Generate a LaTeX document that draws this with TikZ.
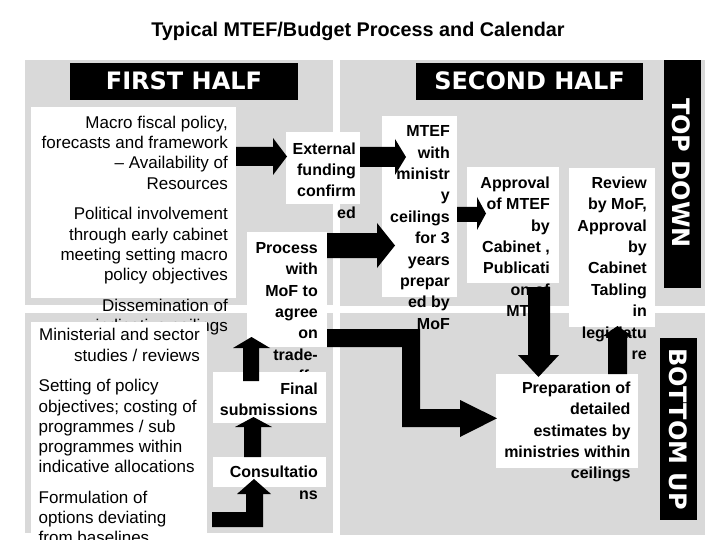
\documentclass[tikz,border=0pt]{standalone}
\usepackage{fontspec}
\setmainfont{Liberation Sans}
\newfontfamily\hdfont{DejaVu Sans}
\definecolor{bggray}{RGB}{217,217,217}
\tikzset{
  quad/.style={fill=bggray},
  wbox/.style={fill=white, draw=none, inner sep=0, anchor=north west},
  hbox/.style={fill=black, draw=none},
  htxt/.style={text=white, inner sep=0, font=\hdfont\bfseries\fontsize{24}{28}\selectfont},
  rtxt/.style={inner sep=0, align=right, anchor=base east, font=\fontsize{17}{20.3}\selectfont},
  ltxt/.style={inner sep=0, align=left, anchor=base west, font=\fontsize{17}{20.3}\selectfont},
  btxt/.style={inner sep=0, align=right, anchor=base east, font=\bfseries\fontsize{16}{21.4}\selectfont},
  blockarrow/.style={fill=black, draw=none}
}
\begin{document}
\begin{tikzpicture}[x=1pt,y=-1pt]
\useasboundingbox (0,0) rectangle (720,540);
% title
\node[inner sep=0, anchor=base, font=\bfseries\fontsize{19.8}{23}\selectfont] (title) at (358,36.7) {Typical MTEF/Budget Process and Calendar};
% quadrants
\fill[quad] (25,60) rectangle (333,305);
\fill[quad] (25,313) rectangle (333,533);
\fill[quad] (340,60) rectangle (705,306);
\fill[quad] (340,313) rectangle (705,535);
% headings
\fill[hbox] (70,63) rectangle (298,100);
\node[htxt, anchor=base] (fh) at (184,90) {FIRST HALF};
\fill[hbox] (416,63) rectangle (643,100);
\node[htxt, anchor=base] (sh) at (529.5,90) {SECOND HALF};
\fill[hbox] (664,60) rectangle (701,288);
\node[htxt, rotate=-90] (td) at (681.5,173) {TOP DOWN};
\fill[hbox] (660,338) rectangle (697,520);
\node[htxt, rotate=-90] (bu) at (678,429) {BOTTOM UP};
% left box 1 (node anchors sit on the baseline of the last line)
\node[wbox, minimum width=205pt, minimum height=191pt] (b1) at (31,107) {};
\node[rtxt] (t1) at (228,331.4) {Macro fiscal policy,\\forecasts and framework\\– Availability of\\Resources\\[10.2pt]Political involvement\\through early cabinet\\meeting setting macro\\policy objectives\\[10.2pt]Dissemination of\\indicative ceilings};
% left box 2
\node[wbox, minimum width=176pt, minimum height=211pt] (b2) at (31,322) {};
\node[rtxt] (t2a) at (200,361) {Ministerial and sector\\studies / reviews};
\node[ltxt] (t2b) at (38.5,543.6) {Setting of policy\\objectives; costing of\\programmes / sub\\programmes within\\indicative allocations\\[9.8pt]Formulation of\\options deviating\\from baselines};
% middle column
\node[wbox, minimum width=74pt, minimum height=72pt] (ext) at (286,132) {};
\node[btxt] (text) at (356,218.2) {External\\funding\\confirm\\ed};
\node[wbox, minimum width=80pt, minimum height=115pt] (proc) at (247,232) {};
\node[btxt] (tproc) at (318,381.7) {Process\\with\\MoF to\\agree\\on\\trade-\\offs};
\node[wbox, minimum width=113pt, minimum height=51pt] (fin) at (213,372) {};
\node[btxt] (tfin) at (318,415.4) {Final\\submissions};
\node[wbox, minimum width=113pt, minimum height=30pt] (cons) at (213,457) {};
\node[btxt] (tcons) at (318,499.1) {Consultatio\\ns};
% right side
\node[wbox, minimum width=75pt, minimum height=181pt] (mtef) at (382,116) {};
\node[btxt] (tmtef) at (450,329.3) {MTEF\\with\\ministr\\y\\ceilings\\for 3\\years\\prepar\\ed by\\MoF};
\node[wbox, minimum width=92pt, minimum height=116pt] (appr) at (467,167) {};
\node[btxt] (tappr) at (550,316.7) {Approval\\of MTEF\\by\\Cabinet ,\\Publicati\\on of\\MTEF};
\node[wbox, minimum width=86pt, minimum height=159pt] (rev) at (569,168) {};
\node[btxt] (trev) at (647,359.5) {Review\\by MoF,\\Approval\\by\\Cabinet\\Tabling\\in\\legislatu\\re};
\node[wbox, minimum width=142pt, minimum height=94pt] (prep) at (496,374) {};
\node[btxt] (tprep) at (630.7,478.9) {Preparation of\\detailed\\estimates by\\ministries within\\ceilings};
% arrows
\fill[blockarrow] (236,147) -- (273,147) -- (273,138) -- (287,156.5) -- (273,175) -- (273,166) -- (236,166) -- cycle;
\fill[blockarrow] (360,147) -- (395,147) -- (395,139) -- (406,157) -- (395,175) -- (395,167) -- (360,167) -- cycle;
\fill[blockarrow] (327,233) -- (377,233) -- (377,223) -- (395,245.5) -- (377,268) -- (377,258) -- (327,258) -- cycle;
\fill[blockarrow] (457,207) -- (477,207) -- (477,197) -- (486,213.5) -- (477,230) -- (477,222) -- (457,222) -- cycle;
\fill[blockarrow] (528,287) -- (528,355) -- (518,355) -- (538.5,377) -- (559,355) -- (550,355) -- (550,287) -- cycle;
\fill[blockarrow] (608,374) -- (608,336) -- (603,336) -- (617.5,326) -- (632,336) -- (627,336) -- (627,374) -- cycle;
\fill[blockarrow] (327,329) -- (420,329) -- (420,409) -- (460,409) -- (460,400) -- (497,418.3) -- (460,437) -- (460,427) -- (402,427) -- (402,347) -- (327,347) -- cycle;
\fill[blockarrow] (243,381) -- (243,348) -- (233,348) -- (251.5,337) -- (270,348) -- (259,348) -- (259,381) -- cycle;
\fill[blockarrow] (244,457) -- (244,427) -- (235,427) -- (253.5,417) -- (272,427) -- (261,427) -- (261,457) -- cycle;
\fill[blockarrow] (212,512) -- (246,512) -- (246,494) -- (237,494) -- (254,479) -- (271,494) -- (263,494) -- (263,527) -- (212,527) -- cycle;
\end{tikzpicture}
\end{document}
